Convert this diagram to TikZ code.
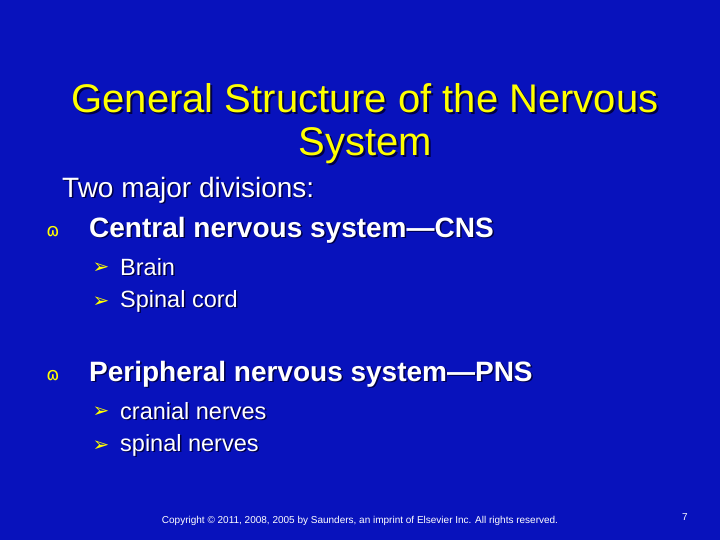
\documentclass[tikz,border=0pt]{standalone}
\usepackage{fontspec}
\setmainfont{Liberation Sans}
\newfontfamily\symf{DejaVu Sans}
\definecolor{bg}{RGB}{8,18,188}
\definecolor{ttl}{RGB}{255,255,0}
\definecolor{shd}{RGB}{0,0,70}
\begin{document}
\begin{tikzpicture}[x=1pt,y=-1pt,
  txt/.style={anchor=west,inner sep=0pt,text=white},
  sh/.style={anchor=west,inner sep=0pt,text=shd}]
\fill[bg] (0,0) rectangle (720,540);
\useasboundingbox (0,0) rectangle (720,540);
\newcommand{\shtext}[4]{% name, x, y, content
  \node[sh] at (#2+1.5,#3+1.5) {#4};
  \node[txt] (#1) at (#2,#3) {#4};}
\foreach \yy/\tt in {98/General Structure of the Nervous,146/System}{
  \node[inner sep=0pt,text=shd,font=\fontsize{40}{44}\selectfont] at (367,\yy+2) {\tt};
  \node[inner sep=0pt,text=ttl,font=\fontsize{40}{44}\selectfont] at (365,\yy) {\tt};}
\node[inner sep=0pt] (title) at (365,98) {};
\begin{scope}[font=\fontsize{28}{32}\selectfont]
\shtext{two}{62}{190}{Two major divisions:}
\shtext{cns}{89}{230}{\bfseries Central nervous system---CNS}
\shtext{pns}{89}{374}{\bfseries Peripheral nervous system---PNS}
\end{scope}
\node[text=ttl,inner sep=0pt,font=\symf\fontsize{18}{18}\selectfont] (b1) at (53,232) {ɷ};
\node[text=ttl,inner sep=0pt,font=\symf\fontsize{18}{18}\selectfont] (b2) at (53,376) {ɷ};
\begin{scope}[font=\fontsize{23.5}{27}\selectfont]
\shtext{brain}{120}{267}{Brain}
\shtext{cord}{120}{301}{Spinal cord}
\shtext{cran}{120}{411}{cranial nerves}
\shtext{spin}{120}{445}{spinal nerves}
\end{scope}
\foreach \yy in {267,301,411,445}{
  \node[text=ttl,inner sep=0pt,font=\symf\fontsize{20}{20}\selectfont] at (101,\yy+1) {➢};}
\node[inner sep=0pt,text=white,font=\fontsize{10}{12}\selectfont] (copy) at (360,521) {Copyright © 2011, 2008, 2005 by Saunders, an imprint of Elsevier Inc. All rights reserved.};
\node[inner sep=0pt,text=white,font=\fontsize{10}{12}\selectfont] (pg) at (685,517) {7};
\end{tikzpicture}
\end{document}
